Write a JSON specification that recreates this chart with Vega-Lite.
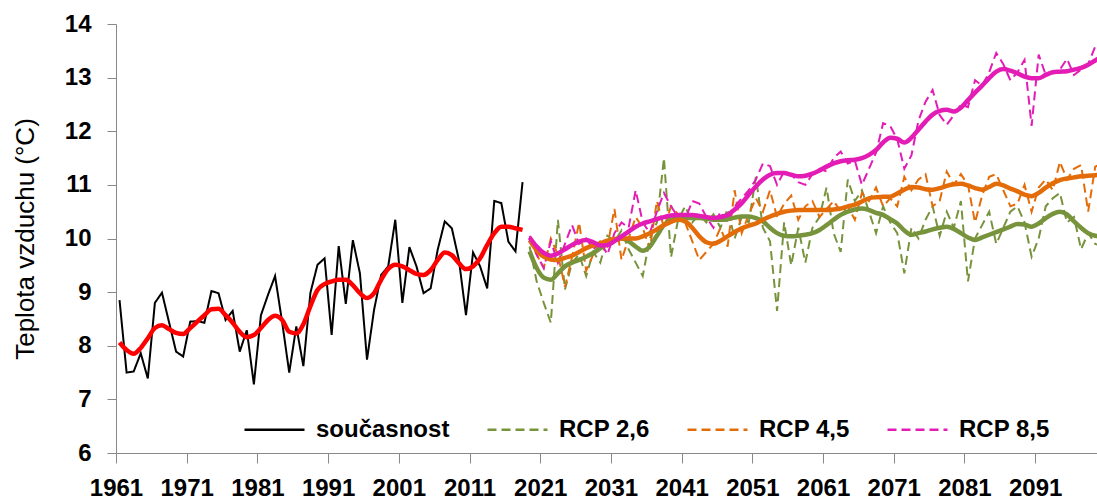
{
 "$schema": "https://vega.github.io/schema/vega-lite/v6.json",
 "width": 981, "height": 429,
 "autosize": {"type": "none"},
 "padding": {"left": 116, "top": 24, "right": 0, "bottom": 49},
 "background": "white",
 "config": {"view": {"stroke": null}, "font": "Liberation Sans"},
 "datasets": {
  "raw": [
   {"series":"současnost","year":1961,"t":8.85},{"series":"současnost","year":1962,"t":7.50},{"series":"současnost","year":1963,"t":7.52},{"series":"současnost","year":1964,"t":7.86},{"series":"současnost","year":1965,"t":7.39},{"series":"současnost","year":1966,"t":8.80},{"series":"současnost","year":1967,"t":8.99},{"series":"současnost","year":1968,"t":8.44},{"series":"současnost","year":1969,"t":7.89},{"series":"současnost","year":1970,"t":7.80},
   {"series":"současnost","year":1971,"t":8.45},{"series":"současnost","year":1972,"t":8.46},{"series":"současnost","year":1973,"t":8.43},{"series":"současnost","year":1974,"t":9.02},{"series":"současnost","year":1975,"t":8.98},{"series":"současnost","year":1976,"t":8.48},{"series":"současnost","year":1977,"t":8.65},{"series":"současnost","year":1978,"t":7.89},{"series":"současnost","year":1979,"t":8.29},{"series":"současnost","year":1980,"t":7.28},
   {"series":"současnost","year":1981,"t":8.57},{"series":"současnost","year":1982,"t":8.95},{"series":"současnost","year":1983,"t":9.30},{"series":"současnost","year":1984,"t":8.44},{"series":"současnost","year":1985,"t":7.50},{"series":"současnost","year":1986,"t":8.36},{"series":"současnost","year":1987,"t":7.62},{"series":"současnost","year":1988,"t":8.99},{"series":"současnost","year":1989,"t":9.51},{"series":"současnost","year":1990,"t":9.63},
   {"series":"současnost","year":1991,"t":8.20},{"series":"současnost","year":1992,"t":9.86},{"series":"současnost","year":1993,"t":8.78},{"series":"současnost","year":1994,"t":9.97},{"series":"současnost","year":1995,"t":9.35},{"series":"současnost","year":1996,"t":7.74},{"series":"současnost","year":1997,"t":8.67},{"series":"současnost","year":1998,"t":9.32},{"series":"současnost","year":1999,"t":9.48},{"series":"současnost","year":2000,"t":10.35},
   {"series":"současnost","year":2001,"t":8.80},{"series":"současnost","year":2002,"t":9.84},{"series":"současnost","year":2003,"t":9.48},{"series":"současnost","year":2004,"t":8.98},{"series":"současnost","year":2005,"t":9.07},{"series":"současnost","year":2006,"t":9.79},{"series":"současnost","year":2007,"t":10.32},{"series":"současnost","year":2008,"t":10.19},{"series":"současnost","year":2009,"t":9.60},{"series":"současnost","year":2010,"t":8.57},
   {"series":"současnost","year":2011,"t":9.74},{"series":"současnost","year":2012,"t":9.48},{"series":"současnost","year":2013,"t":9.07},{"series":"současnost","year":2014,"t":10.70},{"series":"současnost","year":2015,"t":10.66},{"series":"současnost","year":2016,"t":9.94},{"series":"současnost","year":2017,"t":9.76},{"series":"současnost","year":2018,"t":11.05},

   {"series":"RCP 2,6","year":2019,"t":9.85},{"series":"RCP 2,6","year":2020,"t":9.2},{"series":"RCP 2,6","year":2021,"t":8.8},{"series":"RCP 2,6","year":2022,"t":8.43},{"series":"RCP 2,6","year":2023,"t":10.35},{"series":"RCP 2,6","year":2024,"t":9.05},{"series":"RCP 2,6","year":2025,"t":9.55},{"series":"RCP 2,6","year":2026,"t":9.7},{"series":"RCP 2,6","year":2027,"t":9.3},{"series":"RCP 2,6","year":2028,"t":9.75},
   {"series":"RCP 2,6","year":2029,"t":9.55},{"series":"RCP 2,6","year":2030,"t":10.05},{"series":"RCP 2,6","year":2031,"t":9.95},{"series":"RCP 2,6","year":2032,"t":10.15},{"series":"RCP 2,6","year":2033,"t":9.8},{"series":"RCP 2,6","year":2034,"t":9.55},{"series":"RCP 2,6","year":2035,"t":9.3},{"series":"RCP 2,6","year":2036,"t":10.0},{"series":"RCP 2,6","year":2037,"t":10.3},{"series":"RCP 2,6","year":2038,"t":11.5},
   {"series":"RCP 2,6","year":2039,"t":9.65},{"series":"RCP 2,6","year":2040,"t":10.35},{"series":"RCP 2,6","year":2041,"t":10.6},{"series":"RCP 2,6","year":2042,"t":10.3},{"series":"RCP 2,6","year":2043,"t":10.45},{"series":"RCP 2,6","year":2044,"t":10.3},{"series":"RCP 2,6","year":2045,"t":10.45},{"series":"RCP 2,6","year":2046,"t":10.2},{"series":"RCP 2,6","year":2047,"t":10.55},{"series":"RCP 2,6","year":2048,"t":10.0},
   {"series":"RCP 2,6","year":2049,"t":10.4},{"series":"RCP 2,6","year":2050,"t":10.3},{"series":"RCP 2,6","year":2051,"t":11.15},{"series":"RCP 2,6","year":2052,"t":10.2},{"series":"RCP 2,6","year":2053,"t":9.95},{"series":"RCP 2,6","year":2054,"t":8.65},{"series":"RCP 2,6","year":2055,"t":10.3},{"series":"RCP 2,6","year":2056,"t":9.5},{"series":"RCP 2,6","year":2057,"t":10.2},{"series":"RCP 2,6","year":2058,"t":9.55},
   {"series":"RCP 2,6","year":2059,"t":10.2},{"series":"RCP 2,6","year":2060,"t":10.4},{"series":"RCP 2,6","year":2061,"t":10.95},{"series":"RCP 2,6","year":2062,"t":10.1},{"series":"RCP 2,6","year":2063,"t":9.75},{"series":"RCP 2,6","year":2064,"t":11.1},{"series":"RCP 2,6","year":2065,"t":10.7},{"series":"RCP 2,6","year":2066,"t":10.9},{"series":"RCP 2,6","year":2067,"t":10.5},{"series":"RCP 2,6","year":2068,"t":10.1},
   {"series":"RCP 2,6","year":2069,"t":10.6},{"series":"RCP 2,6","year":2070,"t":10.3},{"series":"RCP 2,6","year":2071,"t":10.1},{"series":"RCP 2,6","year":2072,"t":9.35},{"series":"RCP 2,6","year":2073,"t":10.2},{"series":"RCP 2,6","year":2074,"t":10.0},{"series":"RCP 2,6","year":2075,"t":10.35},{"series":"RCP 2,6","year":2076,"t":10.6},{"series":"RCP 2,6","year":2077,"t":10.05},{"series":"RCP 2,6","year":2078,"t":10.5},
   {"series":"RCP 2,6","year":2079,"t":10.2},{"series":"RCP 2,6","year":2080,"t":10.7},{"series":"RCP 2,6","year":2081,"t":9.2},{"series":"RCP 2,6","year":2082,"t":10.0},{"series":"RCP 2,6","year":2083,"t":10.25},{"series":"RCP 2,6","year":2084,"t":10.5},{"series":"RCP 2,6","year":2085,"t":9.9},{"series":"RCP 2,6","year":2086,"t":10.2},{"series":"RCP 2,6","year":2087,"t":10.5},{"series":"RCP 2,6","year":2088,"t":10.6},
   {"series":"RCP 2,6","year":2089,"t":10.3},{"series":"RCP 2,6","year":2090,"t":9.66},{"series":"RCP 2,6","year":2091,"t":10.0},{"series":"RCP 2,6","year":2092,"t":10.6},{"series":"RCP 2,6","year":2093,"t":10.75},{"series":"RCP 2,6","year":2094,"t":10.85},{"series":"RCP 2,6","year":2095,"t":10.3},{"series":"RCP 2,6","year":2096,"t":10.4},{"series":"RCP 2,6","year":2097,"t":9.8},{"series":"RCP 2,6","year":2098,"t":10.1},
   {"series":"RCP 2,6","year":2099,"t":9.9},{"series":"RCP 2,6","year":2100,"t":9.85},

   {"series":"RCP 4,5","year":2019,"t":10.0},{"series":"RCP 4,5","year":2020,"t":9.7},{"series":"RCP 4,5","year":2021,"t":9.45},{"series":"RCP 4,5","year":2022,"t":10.0},{"series":"RCP 4,5","year":2023,"t":9.7},{"series":"RCP 4,5","year":2024,"t":9.1},{"series":"RCP 4,5","year":2025,"t":9.65},{"series":"RCP 4,5","year":2026,"t":10.3},{"series":"RCP 4,5","year":2027,"t":9.4},{"series":"RCP 4,5","year":2028,"t":9.7},
   {"series":"RCP 4,5","year":2029,"t":9.95},{"series":"RCP 4,5","year":2030,"t":9.85},{"series":"RCP 4,5","year":2031,"t":10.55},{"series":"RCP 4,5","year":2032,"t":9.6},{"series":"RCP 4,5","year":2033,"t":10.0},{"series":"RCP 4,5","year":2034,"t":10.4},{"series":"RCP 4,5","year":2035,"t":10.2},{"series":"RCP 4,5","year":2036,"t":9.8},{"series":"RCP 4,5","year":2037,"t":10.7},{"series":"RCP 4,5","year":2038,"t":10.2},
   {"series":"RCP 4,5","year":2039,"t":10.6},{"series":"RCP 4,5","year":2040,"t":10.45},{"series":"RCP 4,5","year":2041,"t":10.3},{"series":"RCP 4,5","year":2042,"t":9.95},{"series":"RCP 4,5","year":2043,"t":9.6},{"series":"RCP 4,5","year":2044,"t":9.75},{"series":"RCP 4,5","year":2045,"t":9.9},{"series":"RCP 4,5","year":2046,"t":10.2},{"series":"RCP 4,5","year":2047,"t":9.85},{"series":"RCP 4,5","year":2048,"t":10.9},
   {"series":"RCP 4,5","year":2049,"t":10.1},{"series":"RCP 4,5","year":2050,"t":10.45},{"series":"RCP 4,5","year":2051,"t":10.75},{"series":"RCP 4,5","year":2052,"t":10.5},{"series":"RCP 4,5","year":2053,"t":10.9},{"series":"RCP 4,5","year":2054,"t":10.4},{"series":"RCP 4,5","year":2055,"t":10.65},{"series":"RCP 4,5","year":2056,"t":10.8},{"series":"RCP 4,5","year":2057,"t":10.35},{"series":"RCP 4,5","year":2058,"t":10.6},
   {"series":"RCP 4,5","year":2059,"t":10.7},{"series":"RCP 4,5","year":2060,"t":10.4},{"series":"RCP 4,5","year":2061,"t":10.55},{"series":"RCP 4,5","year":2062,"t":10.7},{"series":"RCP 4,5","year":2063,"t":10.5},{"series":"RCP 4,5","year":2064,"t":10.6},{"series":"RCP 4,5","year":2065,"t":10.35},{"series":"RCP 4,5","year":2066,"t":10.85},{"series":"RCP 4,5","year":2067,"t":10.7},{"series":"RCP 4,5","year":2068,"t":10.95},
   {"series":"RCP 4,5","year":2069,"t":10.6},{"series":"RCP 4,5","year":2070,"t":10.75},{"series":"RCP 4,5","year":2071,"t":10.6},{"series":"RCP 4,5","year":2072,"t":11.15},{"series":"RCP 4,5","year":2073,"t":10.9},{"series":"RCP 4,5","year":2074,"t":11.1},{"series":"RCP 4,5","year":2075,"t":11.2},{"series":"RCP 4,5","year":2076,"t":10.6},{"series":"RCP 4,5","year":2077,"t":10.7},{"series":"RCP 4,5","year":2078,"t":11.25},
   {"series":"RCP 4,5","year":2079,"t":11.0},{"series":"RCP 4,5","year":2080,"t":11.2},{"series":"RCP 4,5","year":2081,"t":11.0},{"series":"RCP 4,5","year":2082,"t":10.3},{"series":"RCP 4,5","year":2083,"t":10.8},{"series":"RCP 4,5","year":2084,"t":11.15},{"series":"RCP 4,5","year":2085,"t":11.2},{"series":"RCP 4,5","year":2086,"t":10.9},{"series":"RCP 4,5","year":2087,"t":10.6},{"series":"RCP 4,5","year":2088,"t":10.65},
   {"series":"RCP 4,5","year":2089,"t":11.0},{"series":"RCP 4,5","year":2090,"t":10.5},{"series":"RCP 4,5","year":2091,"t":10.95},{"series":"RCP 4,5","year":2092,"t":11.1},{"series":"RCP 4,5","year":2093,"t":10.9},{"series":"RCP 4,5","year":2094,"t":11.43},{"series":"RCP 4,5","year":2095,"t":11.1},{"series":"RCP 4,5","year":2096,"t":11.3},{"series":"RCP 4,5","year":2097,"t":11.37},{"series":"RCP 4,5","year":2098,"t":10.5},
   {"series":"RCP 4,5","year":2099,"t":11.34},{"series":"RCP 4,5","year":2100,"t":11.4},

   {"series":"RCP 8,5","year":2019,"t":10.05},{"series":"RCP 8,5","year":2020,"t":9.7},{"series":"RCP 8,5","year":2021,"t":9.45},{"series":"RCP 8,5","year":2022,"t":9.95},{"series":"RCP 8,5","year":2023,"t":9.55},{"series":"RCP 8,5","year":2024,"t":9.9},{"series":"RCP 8,5","year":2025,"t":10.25},{"series":"RCP 8,5","year":2026,"t":9.9},{"series":"RCP 8,5","year":2027,"t":10.0},{"series":"RCP 8,5","year":2028,"t":9.8},
   {"series":"RCP 8,5","year":2029,"t":9.95},{"series":"RCP 8,5","year":2030,"t":9.7},{"series":"RCP 8,5","year":2031,"t":10.1},{"series":"RCP 8,5","year":2032,"t":10.3},{"series":"RCP 8,5","year":2033,"t":10.2},{"series":"RCP 8,5","year":2034,"t":10.9},{"series":"RCP 8,5","year":2035,"t":10.3},{"series":"RCP 8,5","year":2036,"t":10.1},{"series":"RCP 8,5","year":2037,"t":10.5},{"series":"RCP 8,5","year":2038,"t":10.85},
   {"series":"RCP 8,5","year":2039,"t":10.6},{"series":"RCP 8,5","year":2040,"t":10.4},{"series":"RCP 8,5","year":2041,"t":10.35},{"series":"RCP 8,5","year":2042,"t":10.7},{"series":"RCP 8,5","year":2043,"t":10.65},{"series":"RCP 8,5","year":2044,"t":10.4},{"series":"RCP 8,5","year":2045,"t":10.2},{"series":"RCP 8,5","year":2046,"t":10.5},{"series":"RCP 8,5","year":2047,"t":10.3},{"series":"RCP 8,5","year":2048,"t":10.6},
   {"series":"RCP 8,5","year":2049,"t":10.75},{"series":"RCP 8,5","year":2050,"t":10.9},{"series":"RCP 8,5","year":2051,"t":11.1},{"series":"RCP 8,5","year":2052,"t":11.4},{"series":"RCP 8,5","year":2053,"t":11.35},{"series":"RCP 8,5","year":2054,"t":11.0},{"series":"RCP 8,5","year":2055,"t":11.25},{"series":"RCP 8,5","year":2056,"t":11.2},{"series":"RCP 8,5","year":2057,"t":11.05},{"series":"RCP 8,5","year":2058,"t":11.0},
   {"series":"RCP 8,5","year":2059,"t":11.2},{"series":"RCP 8,5","year":2060,"t":11.3},{"series":"RCP 8,5","year":2061,"t":11.25},{"series":"RCP 8,5","year":2062,"t":11.5},{"series":"RCP 8,5","year":2063,"t":11.62},{"series":"RCP 8,5","year":2064,"t":11.4},{"series":"RCP 8,5","year":2065,"t":11.45},{"series":"RCP 8,5","year":2066,"t":11.0},{"series":"RCP 8,5","year":2067,"t":11.3},{"series":"RCP 8,5","year":2068,"t":11.6},
   {"series":"RCP 8,5","year":2069,"t":12.15},{"series":"RCP 8,5","year":2070,"t":12.1},{"series":"RCP 8,5","year":2071,"t":11.85},{"series":"RCP 8,5","year":2072,"t":11.3},{"series":"RCP 8,5","year":2073,"t":11.55},{"series":"RCP 8,5","year":2074,"t":12.2},{"series":"RCP 8,5","year":2075,"t":12.55},{"series":"RCP 8,5","year":2076,"t":12.77},{"series":"RCP 8,5","year":2077,"t":12.3},{"series":"RCP 8,5","year":2078,"t":12.12},
   {"series":"RCP 8,5","year":2079,"t":12.3},{"series":"RCP 8,5","year":2080,"t":12.5},{"series":"RCP 8,5","year":2081,"t":12.45},{"series":"RCP 8,5","year":2082,"t":12.95},{"series":"RCP 8,5","year":2083,"t":12.85},{"series":"RCP 8,5","year":2084,"t":13.1},{"series":"RCP 8,5","year":2085,"t":13.46},{"series":"RCP 8,5","year":2086,"t":13.25},{"series":"RCP 8,5","year":2087,"t":12.95},{"series":"RCP 8,5","year":2088,"t":13.1},
   {"series":"RCP 8,5","year":2089,"t":13.33},{"series":"RCP 8,5","year":2090,"t":12.1},{"series":"RCP 8,5","year":2091,"t":13.43},{"series":"RCP 8,5","year":2092,"t":13.05},{"series":"RCP 8,5","year":2093,"t":13.1},{"series":"RCP 8,5","year":2094,"t":13.15},{"series":"RCP 8,5","year":2095,"t":13.35},{"series":"RCP 8,5","year":2096,"t":13.05},{"series":"RCP 8,5","year":2097,"t":13.15},{"series":"RCP 8,5","year":2098,"t":13.25},
   {"series":"RCP 8,5","year":2099,"t":13.58},{"series":"RCP 8,5","year":2100,"t":13.65}
  ],
  "smooth": [
   {"series":"současnost","year":1961,"t":8.06},{"series":"současnost","year":1962,"t":7.92},{"series":"současnost","year":1963,"t":7.85},{"series":"současnost","year":1964,"t":7.96},{"series":"současnost","year":1965,"t":8.14},{"series":"současnost","year":1966,"t":8.33},{"series":"současnost","year":1967,"t":8.38},{"series":"současnost","year":1968,"t":8.31},{"series":"současnost","year":1969,"t":8.24},{"series":"současnost","year":1970,"t":8.22},
   {"series":"současnost","year":1971,"t":8.33},{"series":"současnost","year":1972,"t":8.45},{"series":"současnost","year":1973,"t":8.57},{"series":"současnost","year":1974,"t":8.68},{"series":"současnost","year":1975,"t":8.69},{"series":"současnost","year":1976,"t":8.57},{"series":"současnost","year":1977,"t":8.43},{"series":"současnost","year":1978,"t":8.26},{"series":"současnost","year":1979,"t":8.16},{"series":"současnost","year":1980,"t":8.20},
   {"series":"současnost","year":1981,"t":8.33},{"series":"současnost","year":1982,"t":8.48},{"series":"současnost","year":1983,"t":8.56},{"series":"současnost","year":1984,"t":8.48},{"series":"současnost","year":1985,"t":8.26},{"series":"současnost","year":1986,"t":8.23},{"series":"současnost","year":1987,"t":8.40},{"series":"současnost","year":1988,"t":8.74},{"series":"současnost","year":1989,"t":9.04},{"series":"současnost","year":1990,"t":9.15},
   {"series":"současnost","year":1991,"t":9.20},{"series":"současnost","year":1992,"t":9.23},{"series":"současnost","year":1993,"t":9.23},{"series":"současnost","year":1994,"t":9.13},{"series":"současnost","year":1995,"t":8.98},{"series":"současnost","year":1996,"t":8.89},{"series":"současnost","year":1997,"t":8.98},{"series":"současnost","year":1998,"t":9.23},{"series":"současnost","year":1999,"t":9.43},{"series":"současnost","year":2000,"t":9.51},
   {"series":"současnost","year":2001,"t":9.48},{"series":"současnost","year":2002,"t":9.41},{"series":"současnost","year":2003,"t":9.34},{"series":"současnost","year":2004,"t":9.32},{"series":"současnost","year":2005,"t":9.41},{"series":"současnost","year":2006,"t":9.60},{"series":"současnost","year":2007,"t":9.74},{"series":"současnost","year":2008,"t":9.69},{"series":"současnost","year":2009,"t":9.54},{"series":"současnost","year":2010,"t":9.43},
   {"series":"současnost","year":2011,"t":9.48},{"series":"současnost","year":2012,"t":9.63},{"series":"současnost","year":2013,"t":9.88},{"series":"současnost","year":2014,"t":10.10},{"series":"současnost","year":2015,"t":10.22},{"series":"současnost","year":2016,"t":10.22},{"series":"současnost","year":2017,"t":10.19},{"series":"současnost","year":2018,"t":10.16},

   {"series":"RCP 2,6","year":2019,"t":9.76},{"series":"RCP 2,6","year":2020,"t":9.45},{"series":"RCP 2,6","year":2021,"t":9.27},{"series":"RCP 2,6","year":2022,"t":9.23},{"series":"RCP 2,6","year":2023,"t":9.35},{"series":"RCP 2,6","year":2024,"t":9.48},{"series":"RCP 2,6","year":2025,"t":9.55},{"series":"RCP 2,6","year":2026,"t":9.6},{"series":"RCP 2,6","year":2027,"t":9.66},{"series":"RCP 2,6","year":2028,"t":9.73},
   {"series":"RCP 2,6","year":2029,"t":9.82},{"series":"RCP 2,6","year":2030,"t":9.91},{"series":"RCP 2,6","year":2031,"t":9.97},{"series":"RCP 2,6","year":2032,"t":10.0},{"series":"RCP 2,6","year":2033,"t":9.95},{"series":"RCP 2,6","year":2034,"t":9.85},{"series":"RCP 2,6","year":2035,"t":9.77},{"series":"RCP 2,6","year":2036,"t":9.85},{"series":"RCP 2,6","year":2037,"t":10.05},{"series":"RCP 2,6","year":2038,"t":10.25},
   {"series":"RCP 2,6","year":2039,"t":10.35},{"series":"RCP 2,6","year":2040,"t":10.38},{"series":"RCP 2,6","year":2041,"t":10.38},{"series":"RCP 2,6","year":2042,"t":10.38},{"series":"RCP 2,6","year":2043,"t":10.38},{"series":"RCP 2,6","year":2044,"t":10.37},{"series":"RCP 2,6","year":2045,"t":10.35},{"series":"RCP 2,6","year":2046,"t":10.35},{"series":"RCP 2,6","year":2047,"t":10.36},{"series":"RCP 2,6","year":2048,"t":10.39},
   {"series":"RCP 2,6","year":2049,"t":10.41},{"series":"RCP 2,6","year":2050,"t":10.41},{"series":"RCP 2,6","year":2051,"t":10.38},{"series":"RCP 2,6","year":2052,"t":10.32},{"series":"RCP 2,6","year":2053,"t":10.2},{"series":"RCP 2,6","year":2054,"t":10.1},{"series":"RCP 2,6","year":2055,"t":10.05},{"series":"RCP 2,6","year":2056,"t":10.04},{"series":"RCP 2,6","year":2057,"t":10.05},{"series":"RCP 2,6","year":2058,"t":10.07},
   {"series":"RCP 2,6","year":2059,"t":10.1},{"series":"RCP 2,6","year":2060,"t":10.16},{"series":"RCP 2,6","year":2061,"t":10.25},{"series":"RCP 2,6","year":2062,"t":10.35},{"series":"RCP 2,6","year":2063,"t":10.44},{"series":"RCP 2,6","year":2064,"t":10.5},{"series":"RCP 2,6","year":2065,"t":10.54},{"series":"RCP 2,6","year":2066,"t":10.56},{"series":"RCP 2,6","year":2067,"t":10.53},{"series":"RCP 2,6","year":2068,"t":10.48},
   {"series":"RCP 2,6","year":2069,"t":10.44},{"series":"RCP 2,6","year":2070,"t":10.36},{"series":"RCP 2,6","year":2071,"t":10.28},{"series":"RCP 2,6","year":2072,"t":10.15},{"series":"RCP 2,6","year":2073,"t":10.07},{"series":"RCP 2,6","year":2074,"t":10.1},{"series":"RCP 2,6","year":2075,"t":10.13},{"series":"RCP 2,6","year":2076,"t":10.17},{"series":"RCP 2,6","year":2077,"t":10.2},{"series":"RCP 2,6","year":2078,"t":10.22},
   {"series":"RCP 2,6","year":2079,"t":10.18},{"series":"RCP 2,6","year":2080,"t":10.1},{"series":"RCP 2,6","year":2081,"t":10.02},{"series":"RCP 2,6","year":2082,"t":9.97},{"series":"RCP 2,6","year":2083,"t":10.02},{"series":"RCP 2,6","year":2084,"t":10.07},{"series":"RCP 2,6","year":2085,"t":10.12},{"series":"RCP 2,6","year":2086,"t":10.17},{"series":"RCP 2,6","year":2087,"t":10.22},{"series":"RCP 2,6","year":2088,"t":10.27},
   {"series":"RCP 2,6","year":2089,"t":10.26},{"series":"RCP 2,6","year":2090,"t":10.22},{"series":"RCP 2,6","year":2091,"t":10.28},{"series":"RCP 2,6","year":2092,"t":10.38},{"series":"RCP 2,6","year":2093,"t":10.46},{"series":"RCP 2,6","year":2094,"t":10.5},{"series":"RCP 2,6","year":2095,"t":10.45},{"series":"RCP 2,6","year":2096,"t":10.32},{"series":"RCP 2,6","year":2097,"t":10.2},{"series":"RCP 2,6","year":2098,"t":10.1},
   {"series":"RCP 2,6","year":2099,"t":10.05},{"series":"RCP 2,6","year":2100,"t":10.04},

   {"series":"RCP 4,5","year":2019,"t":9.97},{"series":"RCP 4,5","year":2020,"t":9.78},{"series":"RCP 4,5","year":2021,"t":9.66},{"series":"RCP 4,5","year":2022,"t":9.61},{"series":"RCP 4,5","year":2023,"t":9.6},{"series":"RCP 4,5","year":2024,"t":9.64},{"series":"RCP 4,5","year":2025,"t":9.68},{"series":"RCP 4,5","year":2026,"t":9.75},{"series":"RCP 4,5","year":2027,"t":9.82},{"series":"RCP 4,5","year":2028,"t":9.87},
   {"series":"RCP 4,5","year":2029,"t":9.91},{"series":"RCP 4,5","year":2030,"t":9.96},{"series":"RCP 4,5","year":2031,"t":9.99},{"series":"RCP 4,5","year":2032,"t":10.0},{"series":"RCP 4,5","year":2033,"t":10.0},{"series":"RCP 4,5","year":2034,"t":10.0},{"series":"RCP 4,5","year":2035,"t":10.04},{"series":"RCP 4,5","year":2036,"t":10.1},{"series":"RCP 4,5","year":2037,"t":10.17},{"series":"RCP 4,5","year":2038,"t":10.25},
   {"series":"RCP 4,5","year":2039,"t":10.31},{"series":"RCP 4,5","year":2040,"t":10.35},{"series":"RCP 4,5","year":2041,"t":10.32},{"series":"RCP 4,5","year":2042,"t":10.2},{"series":"RCP 4,5","year":2043,"t":10.04},{"series":"RCP 4,5","year":2044,"t":9.93},{"series":"RCP 4,5","year":2045,"t":9.9},{"series":"RCP 4,5","year":2046,"t":9.96},{"series":"RCP 4,5","year":2047,"t":10.04},{"series":"RCP 4,5","year":2048,"t":10.12},
   {"series":"RCP 4,5","year":2049,"t":10.19},{"series":"RCP 4,5","year":2050,"t":10.24},{"series":"RCP 4,5","year":2051,"t":10.28},{"series":"RCP 4,5","year":2052,"t":10.35},{"series":"RCP 4,5","year":2053,"t":10.41},{"series":"RCP 4,5","year":2054,"t":10.46},{"series":"RCP 4,5","year":2055,"t":10.5},{"series":"RCP 4,5","year":2056,"t":10.52},{"series":"RCP 4,5","year":2057,"t":10.53},{"series":"RCP 4,5","year":2058,"t":10.53},
   {"series":"RCP 4,5","year":2059,"t":10.53},{"series":"RCP 4,5","year":2060,"t":10.53},{"series":"RCP 4,5","year":2061,"t":10.53},{"series":"RCP 4,5","year":2062,"t":10.54},{"series":"RCP 4,5","year":2063,"t":10.56},{"series":"RCP 4,5","year":2064,"t":10.6},{"series":"RCP 4,5","year":2065,"t":10.63},{"series":"RCP 4,5","year":2066,"t":10.69},{"series":"RCP 4,5","year":2067,"t":10.75},{"series":"RCP 4,5","year":2068,"t":10.77},
   {"series":"RCP 4,5","year":2069,"t":10.78},{"series":"RCP 4,5","year":2070,"t":10.78},{"series":"RCP 4,5","year":2071,"t":10.84},{"series":"RCP 4,5","year":2072,"t":10.91},{"series":"RCP 4,5","year":2073,"t":10.96},{"series":"RCP 4,5","year":2074,"t":10.95},{"series":"RCP 4,5","year":2075,"t":10.92},{"series":"RCP 4,5","year":2076,"t":10.91},{"series":"RCP 4,5","year":2077,"t":10.94},{"series":"RCP 4,5","year":2078,"t":10.98},
   {"series":"RCP 4,5","year":2079,"t":11.01},{"series":"RCP 4,5","year":2080,"t":11.02},{"series":"RCP 4,5","year":2081,"t":10.99},{"series":"RCP 4,5","year":2082,"t":10.94},{"series":"RCP 4,5","year":2083,"t":10.91},{"series":"RCP 4,5","year":2084,"t":10.96},{"series":"RCP 4,5","year":2085,"t":11.02},{"series":"RCP 4,5","year":2086,"t":10.99},{"series":"RCP 4,5","year":2087,"t":10.93},{"series":"RCP 4,5","year":2088,"t":10.88},
   {"series":"RCP 4,5","year":2089,"t":10.82},{"series":"RCP 4,5","year":2090,"t":10.79},{"series":"RCP 4,5","year":2091,"t":10.85},{"series":"RCP 4,5","year":2092,"t":10.95},{"series":"RCP 4,5","year":2093,"t":11.03},{"series":"RCP 4,5","year":2094,"t":11.09},{"series":"RCP 4,5","year":2095,"t":11.12},{"series":"RCP 4,5","year":2096,"t":11.14},{"series":"RCP 4,5","year":2097,"t":11.16},{"series":"RCP 4,5","year":2098,"t":11.17},
   {"series":"RCP 4,5","year":2099,"t":11.18},{"series":"RCP 4,5","year":2100,"t":11.19},

   {"series":"RCP 8,5","year":2019,"t":10.02},{"series":"RCP 8,5","year":2020,"t":9.85},{"series":"RCP 8,5","year":2021,"t":9.73},{"series":"RCP 8,5","year":2022,"t":9.68},{"series":"RCP 8,5","year":2023,"t":9.72},{"series":"RCP 8,5","year":2024,"t":9.8},{"series":"RCP 8,5","year":2025,"t":9.88},{"series":"RCP 8,5","year":2026,"t":9.94},{"series":"RCP 8,5","year":2027,"t":9.97},{"series":"RCP 8,5","year":2028,"t":9.93},
   {"series":"RCP 8,5","year":2029,"t":9.87},{"series":"RCP 8,5","year":2030,"t":9.88},{"series":"RCP 8,5","year":2031,"t":9.95},{"series":"RCP 8,5","year":2032,"t":10.04},{"series":"RCP 8,5","year":2033,"t":10.13},{"series":"RCP 8,5","year":2034,"t":10.22},{"series":"RCP 8,5","year":2035,"t":10.28},{"series":"RCP 8,5","year":2036,"t":10.32},{"series":"RCP 8,5","year":2037,"t":10.36},{"series":"RCP 8,5","year":2038,"t":10.4},
   {"series":"RCP 8,5","year":2039,"t":10.43},{"series":"RCP 8,5","year":2040,"t":10.44},{"series":"RCP 8,5","year":2041,"t":10.44},{"series":"RCP 8,5","year":2042,"t":10.44},{"series":"RCP 8,5","year":2043,"t":10.42},{"series":"RCP 8,5","year":2044,"t":10.4},{"series":"RCP 8,5","year":2045,"t":10.38},{"series":"RCP 8,5","year":2046,"t":10.4},{"series":"RCP 8,5","year":2047,"t":10.44},{"series":"RCP 8,5","year":2048,"t":10.54},
   {"series":"RCP 8,5","year":2049,"t":10.66},{"series":"RCP 8,5","year":2050,"t":10.82},{"series":"RCP 8,5","year":2051,"t":10.97},{"series":"RCP 8,5","year":2052,"t":11.1},{"series":"RCP 8,5","year":2053,"t":11.19},{"series":"RCP 8,5","year":2054,"t":11.22},{"series":"RCP 8,5","year":2055,"t":11.22},{"series":"RCP 8,5","year":2056,"t":11.19},{"series":"RCP 8,5","year":2057,"t":11.16},{"series":"RCP 8,5","year":2058,"t":11.17},
   {"series":"RCP 8,5","year":2059,"t":11.21},{"series":"RCP 8,5","year":2060,"t":11.27},{"series":"RCP 8,5","year":2061,"t":11.34},{"series":"RCP 8,5","year":2062,"t":11.4},{"series":"RCP 8,5","year":2063,"t":11.44},{"series":"RCP 8,5","year":2064,"t":11.46},{"series":"RCP 8,5","year":2065,"t":11.47},{"series":"RCP 8,5","year":2066,"t":11.5},{"series":"RCP 8,5","year":2067,"t":11.56},{"series":"RCP 8,5","year":2068,"t":11.65},
   {"series":"RCP 8,5","year":2069,"t":11.79},{"series":"RCP 8,5","year":2070,"t":11.88},{"series":"RCP 8,5","year":2071,"t":11.86},{"series":"RCP 8,5","year":2072,"t":11.79},{"series":"RCP 8,5","year":2073,"t":11.88},{"series":"RCP 8,5","year":2074,"t":12.03},{"series":"RCP 8,5","year":2075,"t":12.18},{"series":"RCP 8,5","year":2076,"t":12.31},{"series":"RCP 8,5","year":2077,"t":12.38},{"series":"RCP 8,5","year":2078,"t":12.4},
   {"series":"RCP 8,5","year":2079,"t":12.37},{"series":"RCP 8,5","year":2080,"t":12.44},{"series":"RCP 8,5","year":2081,"t":12.58},{"series":"RCP 8,5","year":2082,"t":12.72},{"series":"RCP 8,5","year":2083,"t":12.85},{"series":"RCP 8,5","year":2084,"t":12.99},{"series":"RCP 8,5","year":2085,"t":13.11},{"series":"RCP 8,5","year":2086,"t":13.16},{"series":"RCP 8,5","year":2087,"t":13.13},{"series":"RCP 8,5","year":2088,"t":13.08},
   {"series":"RCP 8,5","year":2089,"t":13.02},{"series":"RCP 8,5","year":2090,"t":12.99},{"series":"RCP 8,5","year":2091,"t":12.99},{"series":"RCP 8,5","year":2092,"t":13.05},{"series":"RCP 8,5","year":2093,"t":13.1},{"series":"RCP 8,5","year":2094,"t":13.11},{"series":"RCP 8,5","year":2095,"t":13.12},{"series":"RCP 8,5","year":2096,"t":13.15},{"series":"RCP 8,5","year":2097,"t":13.18},{"series":"RCP 8,5","year":2098,"t":13.24},
   {"series":"RCP 8,5","year":2099,"t":13.32},{"series":"RCP 8,5","year":2100,"t":13.4}
  ]
 },
 "encoding": {
  "x": {"field": "year", "type": "quantitative",
   "scale": {"domain": [1960.5, 2099.25], "nice": false, "zero": false},
   "axis": {"values": [1960.5, 1970.5, 1980.5, 1990.5, 2000.5, 2010.5, 2020.5, 2030.5, 2040.5, 2050.5, 2060.5, 2070.5, 2080.5, 2090.5],
    "labelExpr": "toString(datum.value + 0.5)", "grid": false, "title": null,
    "domainColor": "#888888", "tickColor": "#888888", "tickSize": 10,
    "labelFont": "Liberation Sans", "labelFontSize": 24, "labelFontWeight": "bold", "labelColor": "#000000",
    "labelPadding": 13, "labelFlush": false, "labelOverlap": false}},
  "y": {"field": "t", "type": "quantitative",
   "scale": {"domain": [6, 14], "nice": false, "zero": false},
   "axis": {"values": [6, 7, 8, 9, 10, 11, 12, 13, 14], "grid": false,
    "title": "Teplota vzduchu (°C)", "titleFont": "Liberation Sans", "titleFontSize": 26, "titleFontWeight": "normal", "titleColor": "#000000", "titlePadding": 26,
    "domainColor": "#888888", "tickColor": "#888888", "tickSize": 9,
    "labelFont": "Liberation Sans", "labelFontSize": 24, "labelFontWeight": "bold", "labelColor": "#000000", "labelPadding": 16}}
 },
 "layer": [
  {
   "data": {"name": "raw"},
   "mark": {"type": "line", "strokeWidth": 2, "clip": true},
   "encoding": {
    "color": {"field": "series", "type": "nominal",
     "scale": {"domain": ["současnost", "RCP 2,6", "RCP 4,5", "RCP 8,5"], "range": ["#000000", "#77933C", "#E36C09", "#E31CB5"]},
     "legend": {"orient": "none", "legendX": 127, "legendY": 374, "direction": "horizontal", "title": null,
      "symbolType": "stroke", "symbolSize": 3600, "symbolStrokeWidth": 2.5,
      "labelFont": "Liberation Sans", "labelFontSize": 24, "labelFontWeight": "bold", "labelColor": "#000000",
      "labelOffset": 10, "columnPadding": 32, "labelLimit": 400}},
    "strokeDash": {"field": "series", "type": "nominal",
     "scale": {"domain": ["současnost", "RCP 2,6", "RCP 4,5", "RCP 8,5"], "range": [[1, 0], [9, 5], [9, 5], [9, 5]]},
     "legend": {"orient": "none", "legendX": 127, "legendY": 374, "direction": "horizontal", "title": null,
      "symbolType": "stroke", "symbolSize": 3600, "symbolStrokeWidth": 2.5,
      "labelFont": "Liberation Sans", "labelFontSize": 24, "labelFontWeight": "bold", "labelColor": "#000000",
      "labelOffset": 10, "columnPadding": 32, "labelLimit": 400}}
   }
  },
  {
   "data": {"name": "smooth"},
   "transform": [{"filter": "datum.series === 'současnost'"}],
   "mark": {"type": "line", "strokeWidth": 4.5, "interpolate": "monotone", "clip": true, "color": "#FF0000"}
  },
  {
   "data": {"name": "smooth"},
   "transform": [{"filter": "datum.series === 'RCP 2,6'"}],
   "mark": {"type": "line", "strokeWidth": 4.5, "interpolate": "monotone", "clip": true, "color": "#77933C"}
  },
  {
   "data": {"name": "smooth"},
   "transform": [{"filter": "datum.series === 'RCP 4,5'"}],
   "mark": {"type": "line", "strokeWidth": 4.5, "interpolate": "monotone", "clip": true, "color": "#E36C09"}
  },
  {
   "data": {"name": "smooth"},
   "transform": [{"filter": "datum.series === 'RCP 8,5'"}],
   "mark": {"type": "line", "strokeWidth": 4.5, "interpolate": "monotone", "clip": true, "color": "#E31CB5"}
  }
 ]
}
